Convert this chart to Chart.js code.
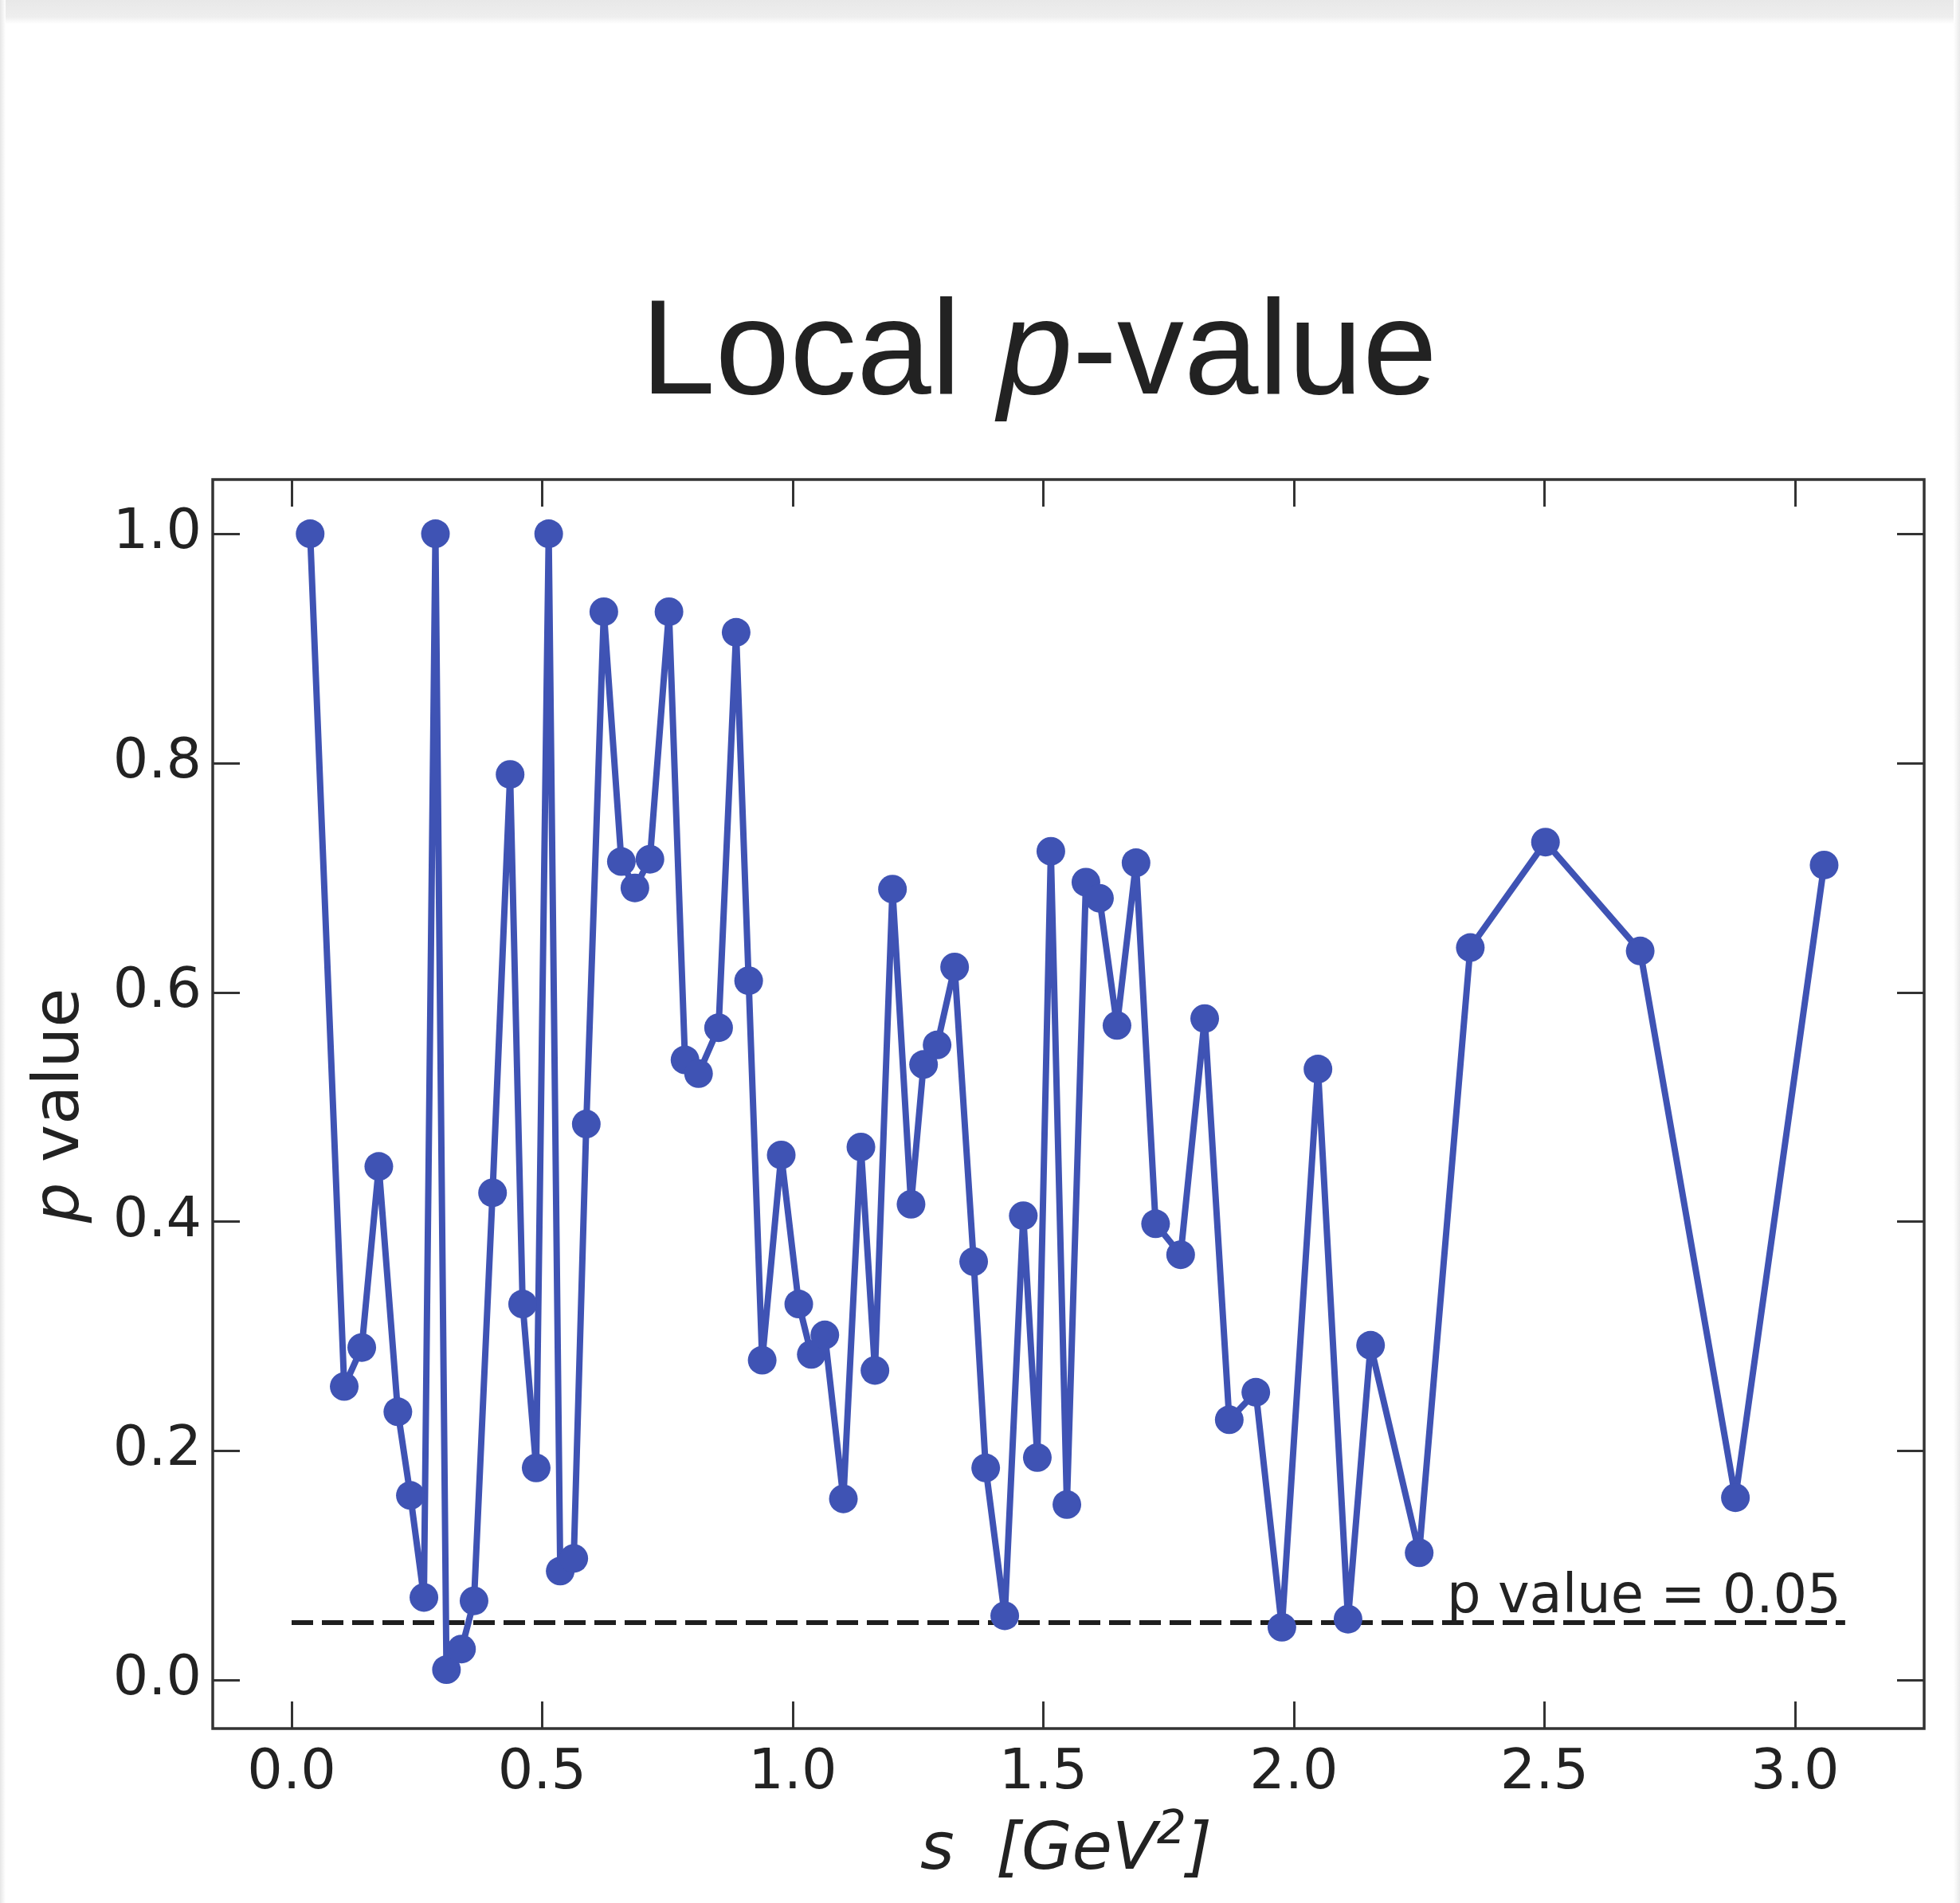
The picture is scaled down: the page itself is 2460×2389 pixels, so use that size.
<!DOCTYPE html>
<html>
<head>
<meta charset="utf-8">
<title>Local p-value</title>
<script src="https://cdn.jsdelivr.net/npm/chart.js@4.4.0/dist/chart.umd.min.js"></script>
<style>
    html, body {
        margin: 0;
        padding: 0;
    }
    body {
        width: 2460px;
        height: 2389px;
        position: relative;
        overflow: hidden;
        background: #fff;
    }
    .edge {
        position: absolute;
        background: #ececec;
    }
    .edge.top {
        left: 0;
        top: 0;
        width: 2460px;
        height: 30px;
        background: linear-gradient(#e8e8e8, #eeeeee 70%, #fff);
    }
    .edge.left {
        left: 0;
        top: 0;
        width: 7px;
        height: 2389px;
        background: linear-gradient(to right, #e6e6e6, #fff);
    }
    .edge.right {
        right: 0;
        top: 0;
        width: 8px;
        height: 2389px;
        background: linear-gradient(to left, #eaeaea, #fff);
    }
    #chart {
        position: absolute;
        left: 0;
        top: 0;
    }
</style>
</head>
<body>
<div class="edge top"></div>
<div class="edge left"></div>
<div class="edge right"></div>
<canvas id="chart" width="2460" height="2389"></canvas>
<script>
// s [GeV^2] positions and local p-values
const sValues = [
    0.037, 0.105, 0.14, 0.174, 0.212, 0.237, 0.264, 0.287, 0.309, 0.339,
    0.364, 0.401, 0.436, 0.461, 0.488, 0.513, 0.536, 0.563, 0.588, 0.623,
    0.658, 0.685, 0.715, 0.753, 0.785, 0.812, 0.852, 0.887, 0.912, 0.939,
    0.977, 1.012, 1.037, 1.064, 1.101, 1.136, 1.164, 1.199, 1.236, 1.261,
    1.288, 1.323, 1.361, 1.385, 1.423, 1.46, 1.488, 1.515, 1.547, 1.585,
    1.612, 1.647, 1.685, 1.724, 1.774, 1.822, 1.871, 1.924, 1.976, 2.048,
    2.108, 2.153, 2.25, 2.352, 2.502, 2.691, 2.881, 3.058,
];
const pValues = [
    1.0, 0.256, 0.29, 0.448, 0.234, 0.161, 0.072, 1.0, 0.009, 0.027,
    0.069, 0.425, 0.79, 0.328, 0.185, 1.0, 0.095, 0.106, 0.485, 0.932,
    0.714, 0.691, 0.716, 0.932, 0.541, 0.529, 0.569, 0.914, 0.61, 0.279,
    0.458, 0.328, 0.284, 0.301, 0.158, 0.465, 0.27, 0.69, 0.415, 0.537,
    0.554, 0.622, 0.365, 0.185, 0.056, 0.405, 0.194, 0.723, 0.153, 0.696,
    0.682, 0.571, 0.713, 0.398, 0.371, 0.577, 0.227, 0.251, 0.046, 0.533,
    0.053, 0.292, 0.111, 0.639, 0.731, 0.636, 0.159, 0.711,
];

// threshold line
const thresholdS = [0, 3.1];
const thresholdP = [0.05, 0.05];
const thresholdLabel = 'p value = 0.05';

// axes
const xTicks = [0, 0.5, 1, 1.5, 2, 2.5, 3];
const yTicks = [0, 0.2, 0.4, 0.6, 0.8, 1.0];
const xRange = [-0.1574, 3.2576];
const yRange = [-0.0424, 1.0473];

const BLUE = 'rgb(63, 83, 180)';
const INK = '#222';
const FRAME = '#333';
const TICK_FONT = 'DejaVu Sans';
const TITLE_FONT = '"Liberation Sans", Arial, sans-serif';

const CANVAS_W = 2460;
const CANVAS_H = 2389;
const AREA = { left: 267, top: 602, right: 2415, bottom: 2170 };
const TICK_LEN = 34;

const toPoints = (xs, ys) => xs.map((x, i) => ({ x, y: ys[i] }));

// draw a list of text runs {text, font, dy} along one baseline
const drawRuns = (ctx, runs, x, y, align = 'center') => {
    const widths = runs.map((r) => {
        ctx.font = r.font;
        return ctx.measureText(r.text).width;
    });
    const total = widths.reduce((a, b) => a + b, 0);
    let cx = align === 'center' ? x - total / 2 : align === 'right' ? x - total : x;
    ctx.textAlign = 'left';
    ctx.textBaseline = 'alphabetic';
    runs.forEach((r, i) => {
        ctx.font = r.font;
        ctx.fillText(r.text, cx, y + (r.dy || 0));
        cx += widths[i];
    });
};

const frameAndTicks = {
    id: 'frameAndTicks',
    afterDatasetsDraw(chart) {
        const { ctx, chartArea: a, scales: { x, y } } = chart;
        ctx.save();
        ctx.strokeStyle = FRAME;
        ctx.lineWidth = 3;
        ctx.beginPath();
        x.ticks.forEach((t) => {
            const px = Math.round(x.getPixelForValue(t.value)) + 0.5;
            ctx.moveTo(px, a.bottom);
            ctx.lineTo(px, a.bottom - TICK_LEN);
            ctx.moveTo(px, a.top);
            ctx.lineTo(px, a.top + TICK_LEN);
        });
        y.ticks.forEach((t) => {
            const py = Math.round(y.getPixelForValue(t.value)) + 0.5;
            ctx.moveTo(a.left, py);
            ctx.lineTo(a.left + TICK_LEN, py);
            ctx.moveTo(a.right, py);
            ctx.lineTo(a.right - TICK_LEN, py);
        });
        ctx.stroke();
        ctx.lineWidth = 3.5;
        ctx.strokeRect(a.left, a.top, a.right - a.left, a.bottom - a.top);
        ctx.restore();
    },
};

const labels = {
    id: 'labels',
    afterDraw(chart) {
        const { ctx, chartArea: a, scales: { x, y } } = chart;
        ctx.save();
        ctx.fillStyle = INK;

        // title
        drawRuns(ctx, [
            { text: 'Local ', font: `168px ${TITLE_FONT}` },
            { text: 'p', font: `italic 168px ${TITLE_FONT}` },
            { text: '-value', font: `168px ${TITLE_FONT}` },
        ], 1304, 494);

        // x axis title
        drawRuns(ctx, [
            { text: 's  [GeV', font: `italic 82px ${TICK_FONT}` },
            { text: '2', font: `italic 58px ${TICK_FONT}`, dy: -32 },
            { text: ']', font: `italic 82px ${TICK_FONT}` },
        ], (a.left + a.right) / 2 - 3, 2346);

        // y axis title
        ctx.save();
        ctx.translate(98, (a.top + a.bottom) / 2 + 2);
        ctx.rotate(-Math.PI / 2);
        drawRuns(ctx, [
            { text: 'p', font: `italic 80px ${TICK_FONT}` },
            { text: ' value', font: `80px ${TICK_FONT}` },
        ], 0, 0);
        ctx.restore();

        // threshold label
        drawRuns(ctx, [{ text: thresholdLabel, font: `67px ${TICK_FONT}` }],
            x.getPixelForValue(3.092), y.getPixelForValue(thresholdP[0]) - 13, 'right');

        ctx.restore();
    },
};

const fixedTicks = (values) => (scale) => {
    scale.ticks = values.map((value) => ({ value }));
};

const ctx = document.getElementById('chart').getContext('2d');

new Chart(ctx, {
    type: 'line',
    data: {
        datasets: [
            {
                label: 'local p-value',
                data: toPoints(sValues, pValues),
                borderColor: BLUE,
                backgroundColor: BLUE,
                borderWidth: 8,
                borderJoinStyle: 'round',
                borderCapStyle: 'round',
                pointRadius: 18,
                pointBorderWidth: 0,
                pointBackgroundColor: BLUE,
                tension: 0,
            },
            {
                label: thresholdLabel,
                data: toPoints(thresholdS, thresholdP),
                borderColor: '#1e1e1e',
                borderWidth: 6,
                borderDash: [27, 11],
                pointRadius: 0,
                tension: 0,
                order: 2,
            },
        ],
    },
    options: {
        responsive: false,
        animation: false,
        devicePixelRatio: 1,
        layout: {
            padding: {
                top: AREA.top,
                right: CANVAS_W - AREA.right,
                left: 0,
                bottom: 0,
            },
        },
        scales: {
            x: {
                type: 'linear',
                min: xRange[0],
                max: xRange[1],
                afterBuildTicks: fixedTicks(xTicks),
                afterFit: (scale) => {
                    scale.height = CANVAS_H - AREA.bottom;
                },
                grid: { display: false },
                border: { display: false },
                ticks: {
                    color: INK,
                    padding: 7,
                    maxRotation: 0,
                    font: { family: TICK_FONT, size: 70 },
                    callback: (v) => Number(v).toFixed(1),
                },
            },
            y: {
                type: 'linear',
                min: yRange[0],
                max: yRange[1],
                afterBuildTicks: fixedTicks(yTicks),
                afterFit: (scale) => {
                    scale.width = AREA.left;
                },
                grid: { display: false },
                border: { display: false },
                ticks: {
                    color: INK,
                    padding: 6,
                    font: { family: TICK_FONT, size: 70 },
                    callback: (v) => Number(v).toFixed(1),
                },
            },
        },
        plugins: {
            legend: { display: false },
            tooltip: { enabled: false },
            title: { display: false },
        },
    },
    plugins: [frameAndTicks, labels],
});
</script>
</body>
</html>
